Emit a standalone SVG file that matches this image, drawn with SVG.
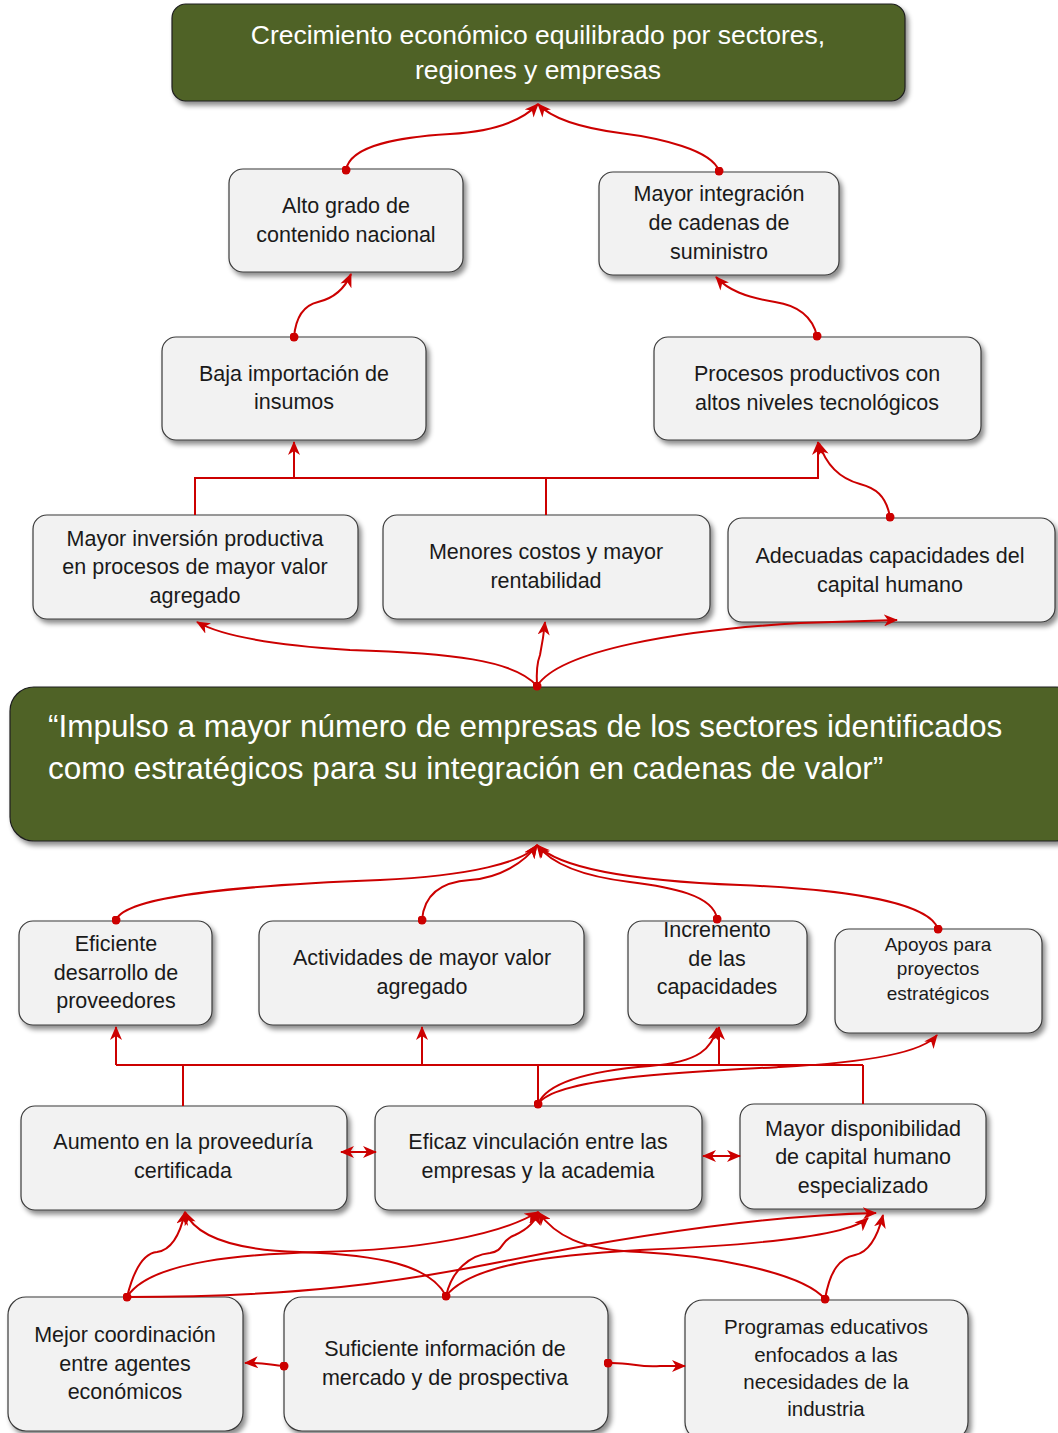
<svg xmlns="http://www.w3.org/2000/svg" width="1058" height="1433" viewBox="0 0 1058 1433">
<defs>
<filter id="sh" x="-10%" y="-10%" width="125%" height="130%">
<feDropShadow dx="3" dy="4" stdDeviation="2.5" flood-color="#000" flood-opacity="0.45"/>
</filter>
<marker id="ah" viewBox="0 0 14 12" refX="13" refY="6" markerWidth="14" markerHeight="12" markerUnits="userSpaceOnUse" orient="auto-start-reverse">
<path d="M0,0 L14,6 L0,12 L4,6 z" fill="#cc0000"/>
</marker>
<marker id="dot" viewBox="0 0 10 10" refX="5" refY="5" markerWidth="9" markerHeight="9" markerUnits="userSpaceOnUse">
<circle cx="5" cy="5" r="5" fill="#cc0000"/>
</marker>
</defs>
<style>
.nb{fill:#f2f2f2;stroke:#3a3a3a;stroke-width:1.2;filter:url(#sh)}
.gb{fill:#4f6228;stroke:#1e1e1e;stroke-width:1.2;filter:url(#sh)}
.t{font-family:"Liberation Sans",Arial,sans-serif;font-size:21.5px;fill:#1a1a1a;text-anchor:middle;dominant-baseline:central}
.t.s{font-size:19px}
.t.p{font-size:20.5px}
.tw{font-family:"Liberation Sans",Arial,sans-serif;fill:#ffffff;dominant-baseline:central}
.c{fill:none;stroke:#cc0000;stroke-width:2}
.a{marker-end:url(#ah)}
.d{marker-start:url(#dot)}
.b{marker-start:url(#ah);marker-end:url(#ah)}
</style>

<g id="n-crecimiento">
<rect class="gb" x="172" y="4" width="733" height="97" rx="14"/>
<text class="tw" x="538" y="35" font-size="26.5" text-anchor="middle">Crecimiento económico equilibrado por sectores,</text>
<text class="tw" x="538" y="70" font-size="26.5" text-anchor="middle">regiones y empresas</text>
</g>
<g id="n-alto">
<rect class="nb" x="229" y="169" width="234" height="103" rx="14"/>
<text class="t" x="346" y="206">Alto grado de</text>
<text class="t" x="346" y="235">contenido nacional</text>
</g>
<g id="n-mayorint">
<rect class="nb" x="599" y="172" width="240" height="103" rx="14"/>
<text class="t" x="719" y="194">Mayor integración</text>
<text class="t" x="719" y="223">de cadenas de</text>
<text class="t" x="719" y="252">suministro</text>
</g>
<g id="n-baja">
<rect class="nb" x="162" y="337" width="264" height="103" rx="14"/>
<text class="t" x="294" y="374">Baja importación de</text>
<text class="t" x="294" y="402">insumos</text>
</g>
<g id="n-procesos">
<rect class="nb" x="654" y="337" width="327" height="103" rx="14"/>
<text class="t" x="817" y="374">Procesos productivos con</text>
<text class="t" x="817" y="403">altos niveles tecnológicos</text>
</g>
<g id="n-inversion">
<rect class="nb" x="33" y="515" width="325" height="104" rx="14"/>
<text class="t" x="195" y="539">Mayor inversión productiva</text>
<text class="t" x="195" y="567">en procesos de mayor valor</text>
<text class="t" x="195" y="596">agregado</text>
</g>
<g id="n-menores">
<rect class="nb" x="383" y="515" width="327" height="104" rx="14"/>
<text class="t" x="546" y="552">Menores costos y mayor</text>
<text class="t" x="546" y="581">rentabilidad</text>
</g>
<g id="n-adecuadas">
<rect class="nb" x="728" y="518" width="327" height="104" rx="14"/>
<text class="t" x="890" y="556">Adecuadas capacidades del</text>
<text class="t" x="890" y="585">capital humano</text>
</g>
<g id="n-impulso">
<rect class="gb" x="10" y="687" width="1070" height="154" rx="24"/>
<text class="tw" x="48" y="726" font-size="31.5">“Impulso a mayor número de empresas de los sectores identificados</text>
<text class="tw" x="48" y="768" font-size="31.5">como estratégicos para su integración en cadenas de valor”</text>
</g>
<g id="n-eficiente">
<rect class="nb" x="19" y="921" width="193" height="104" rx="14"/>
<text class="t" x="116" y="944">Eficiente</text>
<text class="t" x="116" y="973">desarrollo de</text>
<text class="t" x="116" y="1001">proveedores</text>
</g>
<g id="n-actividades">
<rect class="nb" x="259" y="921" width="325" height="104" rx="14"/>
<text class="t" x="422" y="958">Actividades de mayor valor</text>
<text class="t" x="422" y="987">agregado</text>
</g>
<g id="n-incremento">
<rect class="nb" x="628" y="921" width="179" height="104" rx="14"/>
<text class="t" x="717" y="930">Incremento</text>
<text class="t" x="717" y="959">de las</text>
<text class="t" x="717" y="987">capacidades</text>
</g>
<g id="n-apoyos">
<rect class="nb" x="835" y="929" width="207" height="104" rx="14"/>
<text class="t s" x="938" y="944">Apoyos para</text>
<text class="t s" x="938" y="968">proyectos</text>
<text class="t s" x="938" y="993">estratégicos</text>
</g>
<g id="n-aumento">
<rect class="nb" x="21" y="1106" width="326" height="104" rx="14"/>
<text class="t" x="183" y="1142">Aumento en la proveeduría</text>
<text class="t" x="183" y="1171">certificada</text>
</g>
<g id="n-eficaz">
<rect class="nb" x="375" y="1106" width="327" height="104" rx="14"/>
<text class="t" x="538" y="1142">Eficaz vinculación entre las</text>
<text class="t" x="538" y="1171">empresas y la academia</text>
</g>
<g id="n-disponibilidad">
<rect class="nb" x="740" y="1104" width="246" height="105" rx="14"/>
<text class="t" x="863" y="1129">Mayor disponibilidad</text>
<text class="t" x="863" y="1157">de capital humano</text>
<text class="t" x="863" y="1186">especializado</text>
</g>
<g id="n-mejor">
<rect class="nb" x="8" y="1297" width="235" height="134" rx="18"/>
<text class="t" x="125" y="1335">Mejor coordinación</text>
<text class="t" x="125" y="1364">entre agentes</text>
<text class="t" x="125" y="1392">económicos</text>
</g>
<g id="n-suficiente">
<rect class="nb" x="284" y="1297" width="324" height="134" rx="18"/>
<text class="t" x="445" y="1349">Suficiente información de</text>
<text class="t" x="445" y="1378">mercado y de prospectiva</text>
</g>
<g id="n-programas">
<rect class="nb" x="685" y="1300" width="283" height="140" rx="18"/>
<text class="t p" x="826" y="1326">Programas educativos</text>
<text class="t p" x="826" y="1354">enfocados a las</text>
<text class="t p" x="826" y="1381">necesidades de la</text>
<text class="t p" x="826" y="1408">industria</text>
</g>

<g id="connectors">
<path class="c a d" d="M346,170 C350,145 400,137 450,134 C500,131 525,118 538,104"/>
<path class="c a d" d="M719,171 C712,150 660,138 620,133 C575,127 550,117 538,104"/>
<path class="c a d" d="M294,337 C296,315 305,305 318,302 C335,298 345,288 351,274"/>
<path class="c a d" d="M817,336 C812,315 795,305 775,302 C745,297 728,290 716,277"/>
<path class="c a" d="M195,515 V478 H818 V442"/>
<path class="c a" d="M294,478 V442"/>
<path class="c" d="M546,515 V478"/>
<path class="c a d" d="M890,517 C886,495 875,488 860,484 C838,478 825,462 819,443"/>
<path class="c a d" d="M537,686 C515,660 450,653 350,650 C270,645 220,635 197,622"/>
<path class="c a" d="M537,686 C536,668 538,660 540,655 C542,645 544,632 545,622"/>
<path class="c a" d="M537,686 C560,650 680,630 800,623 L897,620"/>

<path class="c a d" d="M116,920 C125,895 250,885 380,880 C470,876 525,862 537,845"/>
<path class="c a d" d="M422,920 C424,895 440,882 470,880 C500,878 525,862 537,845"/>
<path class="c a d" d="M717,919 C714,895 670,887 630,882 C580,876 550,862 537,845"/>
<path class="c a d" d="M938,929 C930,905 860,890 740,885 C610,880 555,864 537,845"/>

<path class="c" d="M116,1065 H863"/>
<path class="c a" d="M116,1065 V1027"/>
<path class="c a" d="M422,1065 V1027"/>
<path class="c a" d="M719,1065 V1027"/>
<path class="c" d="M183,1106 V1065"/>
<path class="c" d="M538,1105 V1065"/>
<path class="c" d="M863,1104 V1065"/>
<path class="c a d" d="M538,1104 C548,1080 600,1070 650,1066 C700,1062 712,1048 717,1028"/>
<path class="c a" d="M538,1104 C555,1078 680,1072 780,1067 C880,1062 925,1050 937,1035"/>

<path class="c b" d="M341,1152 H376"/>
<path class="c b" d="M703,1156 H740"/>

<path class="c a d" d="M127,1297 C135,1265 145,1253 157,1252 C172,1250 180,1235 185,1212"/>
<path class="c a" d="M127,1297 C150,1260 250,1254 320,1252 C420,1250 500,1235 538,1212"/>
<path class="c a" d="M127,1297 C300,1297 400,1282 500,1262 C650,1232 780,1215 876,1213"/>
<path class="c a d" d="M446,1296 C430,1265 380,1255 300,1252 C230,1250 195,1235 185,1212"/>
<path class="c a" d="M446,1296 C452,1270 470,1255 490,1253 C505,1251 500,1240 515,1235 C530,1228 536,1220 538,1212"/>
<path class="c a" d="M446,1296 C470,1265 550,1255 640,1250 C760,1245 850,1235 868,1218"/>
<path class="c a d" d="M825,1299 C800,1270 700,1255 640,1252 C580,1250 555,1235 538,1212"/>
<path class="c a" d="M825,1299 C830,1270 840,1258 855,1255 C870,1252 878,1235 883,1215"/>

<path class="c a d" d="M284,1366 C270,1365 262,1362 245,1363"/>
<path class="c a d" d="M608,1363 C630,1362 640,1368 660,1366 L685,1366"/>
</g>
</svg>
